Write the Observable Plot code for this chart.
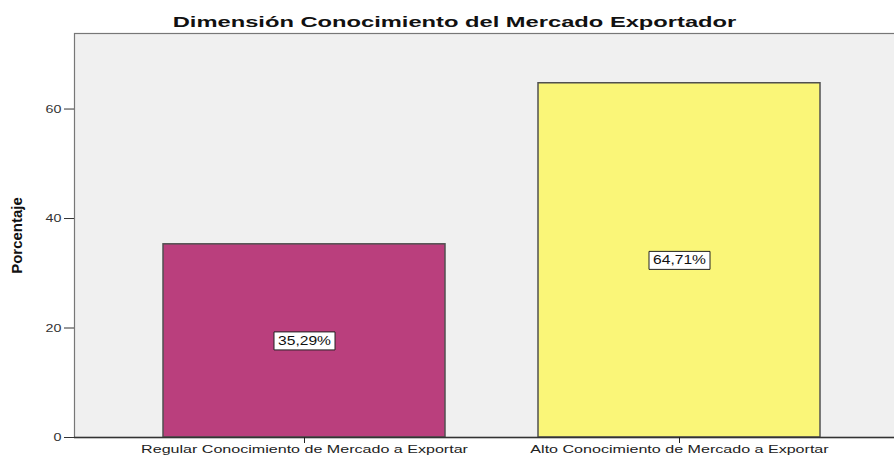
<!DOCTYPE html>
<html>
<head>
<meta charset="utf-8">
<script src="https://cdn.jsdelivr.net/npm/d3@7"></script>
<script src="https://cdn.jsdelivr.net/npm/@observablehq/plot@0.6"></script>
<style>
  html, body { margin: 0; padding: 0; background: white; }
</style>
</head>
<body>
<div id="chart"></div>
<script>
const title = "Dimensión Conocimiento del Mercado Exportador";
const yLabel = "Porcentaje";
const categories = ["Regular Conocimiento de Mercado a Exportar", "Alto Conocimiento de Mercado a Exportar"];
const values = [35.29, 64.71];
const valueLabels = ["35,29%", "64,71%"];
const barColors = ["#BA3F7D", "#FAF678"];
const yTicks = [0, 20, 40, 60];

const data = categories.map((c, i) => ({category: c, value: values[i], label: valueLabels[i], color: barColors[i]}));

const boxSymbol = {
  draw(ctx) { ctx.rect(-30.5, -9, 61, 18); }
};

const chart = Plot.plot({
  width: 894,
  height: 457,
  marginLeft: 74,
  marginRight: 0,
  marginTop: 33,
  marginBottom: 20,
  style: {background: "white", fontFamily: "'Liberation Sans', Arial, sans-serif", overflow: "hidden"},
  x: {domain: categories, range: [74, 909], paddingInner: 0.247, paddingOuter: 0.234, label: null},
  y: {domain: [0, 73.8], label: null},
  marks: [
    Plot.frame({fill: "#F0F0F0", stroke: "#777", strokeWidth: 1.2, insetRight: -6}),
    Plot.barY(data, {x: "category", y: "value", fill: "color", stroke: "#505050", strokeWidth: 1.5}),
    Plot.ruleY([0], {stroke: "#333", strokeWidth: 1.5}),
    Plot.axisY({ticks: yTicks, tickSize: 10, tickPadding: 3, fontSize: 11, color: "#333", label: null, className: "ytl"}),
    Plot.axisX({tickSize: 6, tickPadding: 2, fontSize: 10.5, color: "#222", label: null, className: "xtl"}),
    Plot.dot(data, {x: "category", y: d => d.value / 2, symbol: boxSymbol, fill: "white", stroke: "#222", strokeWidth: 1}),
    Plot.text(data, {x: "category", y: d => d.value / 2, text: "label", fontSize: 12, fill: "#111", className: "vlab"}),
    Plot.text([title], {frameAnchor: "top", dy: -17, dx: -30, fontSize: 15, fontWeight: "bold", fill: "#111", className: "ttl"}),
    Plot.text([yLabel], {frameAnchor: "left", dx: -57, rotate: -90, textAnchor: "middle", fontSize: 15, fontWeight: "bold", fill: "#111",
      fontFamily: "'Liberation Sans Narrow', 'Arial Narrow', sans-serif"})
  ]
});
document.getElementById("chart").append(chart);

function stretch(sel, f) {
  chart.querySelectorAll(sel).forEach(t => {
    const L = t.getComputedTextLength();
    t.setAttribute("textLength", (L * f).toFixed(1));
    t.setAttribute("lengthAdjust", "spacingAndGlyphs");
  });
}
stretch("g.ttl text", 1.58);
stretch("g.xtl text", 1.53);
stretch("g.ytl text", 1.3);
stretch("g.vlab text", 1.3);
</script>
</body>
</html>
